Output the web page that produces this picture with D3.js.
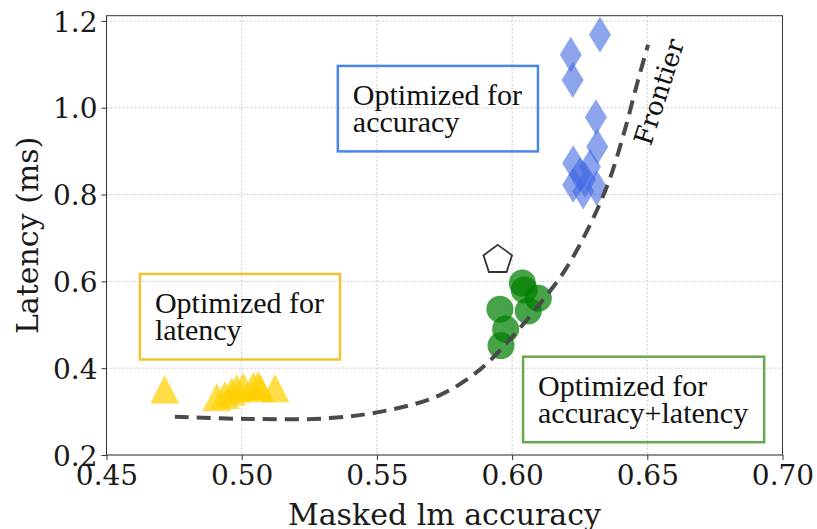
<!DOCTYPE html>
<html>
<head>
<meta charset="utf-8">
<script src="https://cdn.jsdelivr.net/npm/d3@7/dist/d3.min.js"></script>
<style>
  html, body { margin: 0; padding: 0; background: #fff; }
  svg { display: block; }
</style>
</head>
<body>
<svg id="chart" width="817" height="529"></svg>
<script>
// Accuracy / latency trade-off of searched model configurations

// Configurations optimized for accuracy (thin diamonds)
const accuracyX = [0.6325, 0.6217, 0.6224, 0.6310, 0.6315, 0.6226, 0.6288, 0.6251, 0.6270, 0.6226, 0.6263, 0.6313];
const accuracyY = [1.168, 1.122, 1.064, 0.978, 0.910, 0.872, 0.864, 0.845, 0.834, 0.822, 0.807, 0.815];

// Configurations optimized for accuracy + latency (circles)
const balancedX = [0.6038, 0.6045, 0.6097, 0.6060, 0.5955, 0.5976, 0.5959];
const balancedY = [0.596, 0.580, 0.561, 0.532, 0.536, 0.490, 0.452];

// Configurations optimized for latency (triangles)
const latencyX = [0.4715, 0.4908, 0.4938, 0.4963, 0.4982, 0.5006, 0.5043, 0.5061, 0.5068, 0.5123];
const latencyY = [0.351, 0.333, 0.338, 0.346, 0.354, 0.357, 0.359, 0.361, 0.354, 0.354];

// Baseline model (open pentagon)
const baselineX = [0.5947];
const baselineY = [0.653];

// Pareto frontier trace
const frontierX = [0.4753, 0.503, 0.5326, 0.5549, 0.5733, 0.588, 0.599, 0.610, 0.6196, 0.6288, 0.636, 0.6417, 0.6466, 0.6503];
const frontierY = [0.288, 0.283, 0.285, 0.304, 0.338, 0.396, 0.465, 0.546, 0.626, 0.730, 0.834, 0.949, 1.064, 1.145];

// Axis ticks
const xTicks = [0.45, 0.50, 0.55, 0.60, 0.65, 0.70];
const yTicks = [0.2, 0.4, 0.6, 0.8, 1.0, 1.2];

// Annotation boxes: text lines and the data point of the first baseline
const noteLines = [["Optimized for", "accuracy"], ["Optimized for", "latency"], ["Optimized for", "accuracy+latency"]];
const noteX = [0.5411, 0.4679, 0.6096];
const noteY = [1.0065, 0.5272, 0.3366];
const noteColors = ["#4a86e8", "#f1c232", "#6aa84f"];

const svg = d3.select("#chart");
const plotLeft = 106.5, plotRight = 782.5, plotTop = 15.7, plotBottom = 455;

const x = d3.scaleLinear().domain([0.45, 0.70]).range([plotLeft, plotRight]);
const y = d3.scaleLinear().domain([0.2, 1.212]).range([plotBottom, plotTop]);

const tickFont = "'DejaVu Serif', serif";
const noteFont = "'Liberation Serif', 'Times New Roman', serif";

// grid
const grid = svg.append("g");
grid.selectAll("line.gx").data(xTicks).join("line")
  .attr("x1", d => x(d)).attr("x2", d => x(d))
  .attr("y1", plotTop).attr("y2", plotBottom)
  .attr("stroke", "#c8c8c8").attr("stroke-width", 1).attr("stroke-dasharray", "2,2");
grid.selectAll("line.gy").data(yTicks).join("line")
  .attr("x1", plotLeft).attr("x2", plotRight)
  .attr("y1", d => y(d)).attr("y2", d => y(d))
  .attr("stroke", "#c8c8c8").attr("stroke-width", 1).attr("stroke-dasharray", "2,2");

// axes
const xAxis = d3.axisBottom(x).tickValues(xTicks).tickFormat(d3.format(".2f")).tickSizeInner(5).tickSizeOuter(0).tickPadding(3);
const yAxis = d3.axisLeft(y).tickValues(yTicks).tickFormat(d3.format(".1f")).tickSizeInner(5).tickSizeOuter(0).tickPadding(4);

const gx = svg.append("g").attr("transform", `translate(0,${plotBottom})`).call(xAxis);
const gy = svg.append("g").attr("transform", `translate(${plotLeft},0)`).call(yAxis);
[gx, gy].forEach(g => {
  g.select(".domain").remove();
  g.selectAll(".tick line").attr("stroke", "#333");
  g.selectAll(".tick text").attr("font-family", tickFont).attr("font-size", 28).attr("fill", "#1a1a1a");
});
gx.selectAll(".tick text").attr("dy", "0.78em");
gy.selectAll(".tick text").attr("dy", "0.36em");

// spines
svg.append("rect").attr("x", plotLeft).attr("y", plotTop)
  .attr("width", plotRight - plotLeft).attr("height", plotBottom - plotTop)
  .attr("fill", "none").attr("stroke", "#333").attr("stroke-width", 1);

// axis labels
svg.append("text").attr("x", (plotLeft + plotRight) / 2).attr("y", 525)
  .attr("text-anchor", "middle").attr("font-family", tickFont).attr("font-size", 30).attr("fill", "#1a1a1a")
  .text("Masked lm accuracy");
svg.append("text").attr("transform", `translate(38,${(plotTop + plotBottom) / 2}) rotate(-90)`)
  .attr("text-anchor", "middle").attr("font-family", tickFont).attr("font-size", 30).attr("fill", "#1a1a1a")
  .text("Latency (ms)");

// annotation boxes
const notes = svg.append("g");
noteLines.forEach((lines, i) => {
  const g = notes.append("g");
  const t = g.append("text").attr("font-family", noteFont).attr("font-size", 30).attr("fill", "#111");
  lines.forEach((s, j) => {
    t.append("tspan").attr("x", x(noteX[i])).attr("y", y(noteY[i]) + j * 27.5).text(s);
  });
  const bb = t.node().getBBox();
  g.insert("rect", "text")
    .attr("x", bb.x - 15).attr("y", bb.y - 12)
    .attr("width", bb.width + 31).attr("height", bb.height + 25)
    .attr("fill", "none").attr("stroke", noteColors[i]).attr("stroke-width", 2.5);
});

// markers
const marks = svg.append("g");

const tri = (cx, cy) => `M${cx},${cy - 14}L${cx + 14.5},${cy + 14}L${cx - 14.5},${cy + 14}Z`;
marks.selectAll("path.lat").data(latencyX.map((v, i) => [v, latencyY[i]])).join("path")
  .attr("d", d => tri(x(d[0]), y(d[1])))
  .attr("fill", "#ffd000").attr("fill-opacity", 0.72);

marks.selectAll("circle.bal").data(balancedX.map((v, i) => [v, balancedY[i]])).join("circle")
  .attr("cx", d => x(d[0])).attr("cy", d => y(d[1])).attr("r", 13.5)
  .attr("fill", "#008000").attr("fill-opacity", 0.72);

const dia = (cx, cy) => `M${cx},${cy - 18}L${cx + 11},${cy}L${cx},${cy + 18}L${cx - 11},${cy}Z`;
marks.selectAll("path.acc").data(accuracyX.map((v, i) => [v, accuracyY[i]])).join("path")
  .attr("d", d => dia(x(d[0]), y(d[1])))
  .attr("fill", "#4169e1").attr("fill-opacity", 0.6);

const pent = (cx, cy, r) => d3.range(5).map(k => {
  const a = -Math.PI / 2 + k * 2 * Math.PI / 5;
  return [cx + r * Math.cos(a), cy + r * Math.sin(a)];
});
marks.selectAll("path.base").data(baselineX.map((v, i) => [v, baselineY[i]])).join("path")
  .attr("d", d => "M" + pent(x(d[0]), y(d[1]) + 1.5, 15).join("L") + "Z")
  .attr("fill", "none").attr("stroke", "#333").attr("stroke-width", 1.8);

// frontier
const line = d3.line().x(d => x(d[0])).y(d => y(d[1])).curve(d3.curveCatmullRom);
svg.append("path").datum(frontierX.map((v, i) => [v, frontierY[i]]))
  .attr("d", line).attr("fill", "none").attr("stroke", "#4a4a4a")
  .attr("stroke-width", 4).attr("stroke-dasharray", "14,8");

svg.append("text").attr("transform", `translate(${x(0.6543)},${y(1.0364)}) rotate(-72)`)
  .attr("text-anchor", "middle").attr("dy", "0.35em")
  .attr("font-family", tickFont).attr("font-size", 26).attr("fill", "#111")
  .text("Frontier");
</script>
</body>
</html>
